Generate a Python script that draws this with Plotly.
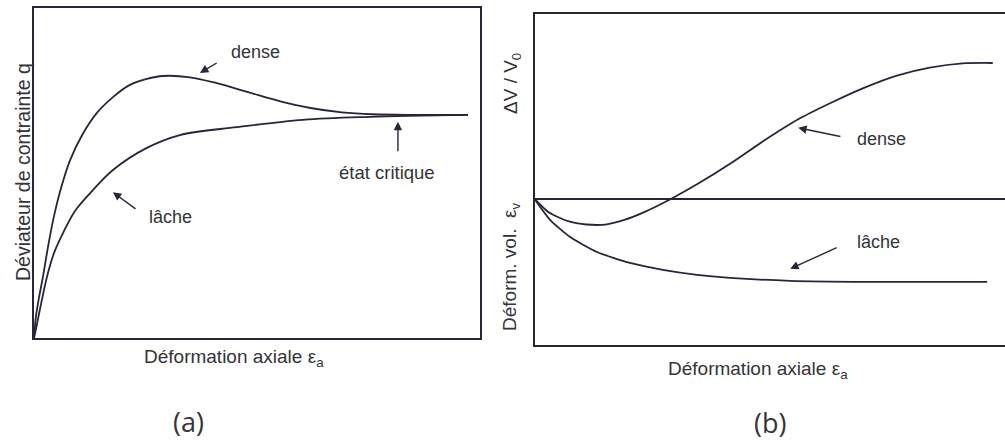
import plotly.graph_objects as go

# ---- data (arbitrary units) ----
# Panel (a): deviator stress q vs axial strain
a_dense_x = [0, 0.04, 0.11, 0.20, 0.31, 0.43, 0.58, 0.81, 1.08, 1.41, 1.77, 2.15, 2.53, 2.89,
             3.5, 4.1, 4.8, 5.5, 6.2, 6.9, 7.6, 8.5, 9.73]
a_dense_y = [0, 0.61, 1.21, 1.85, 2.73, 3.58, 4.42, 5.39, 6.15, 6.82, 7.30, 7.67, 7.85, 7.94,
             7.90, 7.72, 7.45, 7.18, 6.97, 6.84, 6.78, 6.76, 6.76]
a_loose_x = [0, 0.04, 0.13, 0.29, 0.45, 0.65, 0.92, 1.26, 1.77, 2.53, 3.27, 4.55, 6.03, 7.53, 9.73]
a_loose_y = [0, 0.24, 0.85, 1.85, 2.58, 3.18, 3.85, 4.39, 5.09, 5.76, 6.15, 6.39, 6.61, 6.70, 6.76]

# Panel (b): volumetric strain vs axial strain
b_dense_x = [0, 0.3, 0.7, 1.1, 1.5, 1.9, 2.3, 2.9, 3.5, 4.2, 4.9, 5.6, 6.3, 7.0, 7.7, 8.4, 9.1, 9.74]
b_dense_y = [0, -0.40, -0.66, -0.76, -0.76, -0.62, -0.40, 0.02, 0.50, 1.12, 1.80, 2.42, 2.92, 3.37, 3.74, 3.98, 4.11, 4.12]
b_loose_x = [0, 0.11, 0.32, 0.74, 1.32, 2.02, 2.72, 3.45, 4.15, 5.43, 7.06, 9.62]
b_loose_y = [0, -0.23, -0.62, -1.13, -1.59, -1.92, -2.13, -2.28, -2.37, -2.46, -2.49, -2.49]

W, H = 1005, 441
LINE = "#26263a"
TXT = "#333338"
FONT = "Liberation Sans, Arial, sans-serif"

def px(x):
    return x / W

def py(y):
    return 1 - y / H

fig = go.Figure()
for xs, ys, ax, sm in [(a_dense_x, a_dense_y, "x", 1.0), (a_loose_x, a_loose_y, "x", 1.0),
                       (b_dense_x, b_dense_y, "x2", 0.6), (b_loose_x, b_loose_y, "x2", 0.6)]:
    fig.add_trace(go.Scatter(
        x=xs, y=ys, mode="lines",
        line=dict(color=LINE, width=1.8, shape="spline", smoothing=sm),
        xaxis=ax, yaxis=ax.replace("x", "y"), showlegend=False, hoverinfo="skip"))

axis_common = dict(showgrid=False, showticklabels=False, ticks="", zeroline=False,
                   showline=True, linecolor=LINE, linewidth=2, fixedrange=True)

fig.update_layout(
    width=W, height=H, margin=dict(l=0, r=0, t=0, b=0),
    paper_bgcolor="white", plot_bgcolor="white",
    xaxis=dict(domain=[px(34), px(480)], range=[0, 10], mirror=True, anchor="y", **axis_common),
    yaxis=dict(domain=[py(338), py(8)], range=[0, 10], mirror=True, anchor="x", **axis_common),
    xaxis2=dict(domain=[px(535), 1.0], range=[0, 10], mirror=True, anchor="y2", **axis_common),
    yaxis2=dict(domain=[py(345), py(14)], range=[-4.40, 5.60], mirror=False, anchor="x2",
                **{**axis_common, "zeroline": True, "zerolinecolor": LINE, "zerolinewidth": 1.5}),
)

ann = []
def label(text, x, y, xref, yref, size=18, angle=0, font=FONT):
    ann.append(dict(text=text, x=x, y=y, xref=xref, yref=yref, showarrow=False,
                    textangle=angle, font=dict(family=font, size=size, color=TXT),
                    xanchor="center", yanchor="middle"))

def arrow(xt, yt, xh, yh, xref, yref):
    ann.append(dict(text="", x=xh, y=yh, ax=xt, ay=yt, xref=xref, yref=yref,
                    axref=xref, ayref=yref, showarrow=True, arrowhead=2,
                    arrowsize=1.2, arrowwidth=1.4, arrowcolor=LINE))

# Panel (a) labels
label("dense", 4.96, 8.67, "x", "y")
arrow(4.13, 8.36, 3.72, 8.03, "x", "y")
label("lâche", 3.05, 3.67, "x", "y")
arrow(2.31, 3.88, 1.77, 4.42, "x", "y")
label("état critique", 7.91, 5.03, "x", "y", size=18.5)
arrow(8.16, 5.61, 8.16, 6.55, "x", "y")
label("Déviateur de contrainte q", px(23), py(172), "paper", "paper", size=19.5, angle=-90)
label("Déformation axiale ε<sub>a</sub>", px(234), py(358), "paper", "paper", size=19)
label("(a)", px(188), py(421), "paper", "paper", size=27, font="Open Sans, sans-serif")

# Panel (b) labels
label("dense", 7.38, 1.83, "x2", "y2")
arrow(6.53, 1.89, 5.60, 2.16, "x2", "y2")
label("lâche", 7.30, -1.28, "x2", "y2")
arrow(6.45, -1.44, 5.43, -2.10, "x2", "y2")
label("ΔV / V<sub>0</sub>", px(512), py(83), "paper", "paper", size=19, angle=-90)
label("Déform. vol.  ε<sub>v</sub>", px(511), py(267), "paper", "paper", size=19, angle=-90)
label("Déformation axiale ε<sub>a</sub>", px(758), py(370), "paper", "paper", size=19)
label("(b)", px(770), py(422), "paper", "paper", size=27, font="Open Sans, sans-serif")

fig.update_layout(annotations=ann)
fig.write_html("out.html")
